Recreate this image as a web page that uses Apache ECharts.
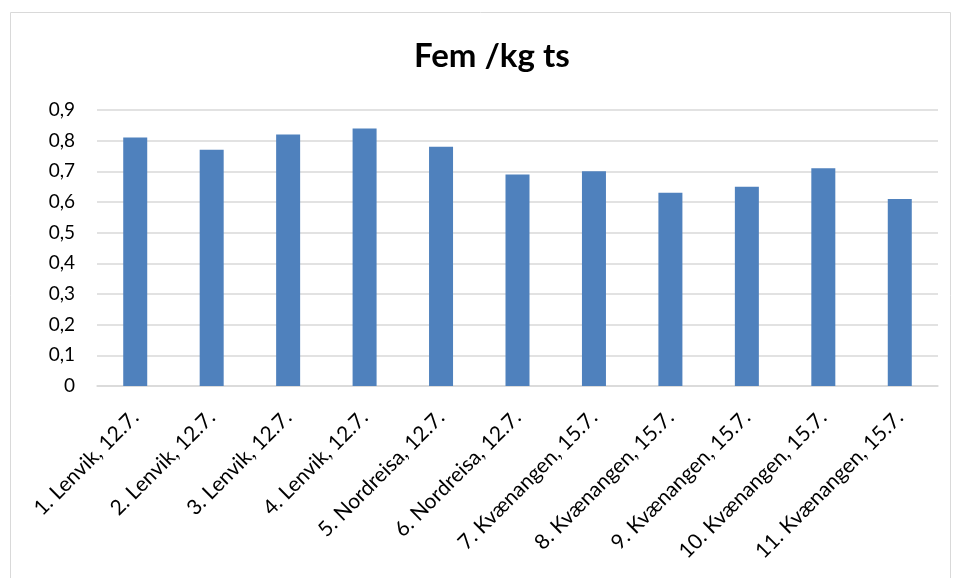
<!DOCTYPE html>
<html><head><meta charset="utf-8">
<script src="https://cdn.jsdelivr.net/npm/echarts@6/dist/echarts.min.js"></script>
<style>html,body{margin:0;padding:0;background:#fff}#c{width:955px;height:578px}</style>
</head><body><div id="c"></div>
<script>
const categories = ["1. Lenvik, 12.7.","2. Lenvik, 12.7.","3. Lenvik, 12.7.","4. Lenvik, 12.7.","5. Nordreisa, 12.7.","6. Nordreisa, 12.7.","7. Kvænangen, 15.7.","8. Kvænangen, 15.7.","9. Kvænangen, 15.7.","10. Kvænangen, 15.7.","11. Kvænangen, 15.7."];
const values = [0.81,0.77,0.82,0.84,0.78,0.69,0.70,0.63,0.65,0.71,0.61];
const title = "Fem /kg ts";
const chart = echarts.init(document.getElementById('c'));
const font = "Lato, 'Open Sans', 'Liberation Sans', sans-serif";
chart.setOption({
  animation:false,
  graphic:[{type:'rect',shape:{x:10.5,y:12.5,width:940,height:570},style:{fill:'none',stroke:'#d9d9d9',lineWidth:1}}],
  title:{text:title,left:409,top:35,textStyle:{fontFamily:font,fontSize:33,fontWeight:'bold',color:'#000'}},
  grid:{left:97,right:17,top:110,bottom:192,containLabel:false},
  xAxis:{type:'category',data:categories,
    axisLine:{lineStyle:{color:'#d9d9d9',width:1.5}},axisTick:{show:false},
    axisLabel:{rotate:45,interval:0,fontFamily:font,fontSize:21,color:'#000',margin:28}},
  yAxis:{type:'value',min:0,max:0.9,interval:0.1,
    axisLine:{show:false},axisTick:{show:false},
    splitLine:{lineStyle:{color:'#d9d9d9',width:1.5}},
    axisLabel:{fontFamily:font,fontSize:19,color:'#000',margin:22,formatter:v=>String(Math.round(v*10)/10).replace('.',',')}},
  series:[{type:'bar',data:values,barWidth:24,itemStyle:{color:'#4F81BD'}}]
});
</script></body></html>
